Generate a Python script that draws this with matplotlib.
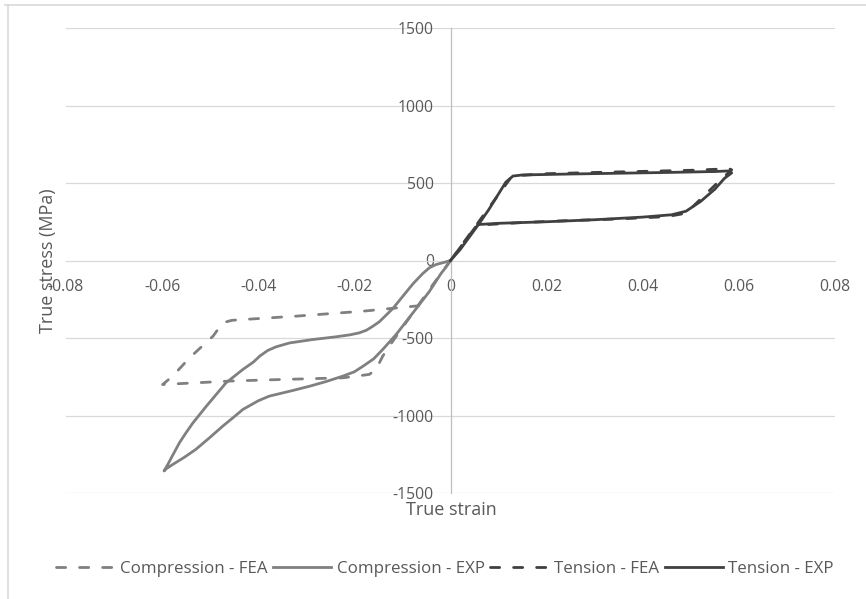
import matplotlib
matplotlib.use("Agg")
import matplotlib.pyplot as plt
from matplotlib.lines import Line2D

# ---- data ----
comp_fea_strain = [0, -0.004, -0.008, -0.012, -0.0141, -0.0155, -0.0169, -0.0224, -0.0356,
                   -0.046, -0.0599, -0.0578, -0.0543, -0.0494, -0.0474, -0.0455, -0.0432,
                   -0.0321, -0.0182, -0.0066]
comp_fea_stress = [0, -170, -345, -520, -617, -703, -735, -757, -768,
                   -778, -800, -746, -628, -488, -402, -386, -381,
                   -359, -327, -292]

comp_exp_strain = [0, -0.001, -0.002, -0.0044, -0.0078, -0.0113, -0.0141, -0.016, -0.0182,
                   -0.020, -0.0224, -0.026, -0.0293, -0.033, -0.0377, -0.040, -0.0432,
                   -0.045, -0.0474, -0.050, -0.053, -0.0555, -0.0578, -0.0592, -0.0596,
                   -0.0588, -0.0576, -0.0564, -0.055, -0.0536, -0.0508, -0.0467, -0.0432,
                   -0.041, -0.0397, -0.038, -0.0363, -0.0335, -0.0287, -0.024, -0.021,
                   -0.019, -0.0175, -0.0162, -0.0148, -0.012, -0.0078, -0.0058, -0.0044,
                   -0.003, -0.0012, 0]
comp_exp_stress = [0, -45, -85, -200, -337, -477, -574, -635, -682,
                   -718, -746, -782, -811, -840, -875, -905, -961,
                   -1008, -1069, -1140, -1219, -1272, -1316, -1345, -1358,
                   -1315, -1245, -1176, -1110, -1048, -940, -789, -703,
                   -655, -617, -580, -557, -532, -510, -493, -480,
                   -467, -450, -425, -395, -310, -150, -85, -47,
                   -26, -11, 0]

tens_fea_strain = [0, 0.0128, 0.02, 0.03, 0.04, 0.05, 0.058, 0.0585, 0.0555, 0.049,
                   0.045, 0.035, 0.025, 0.015, 0.0055, 0.003, 0]
tens_fea_stress = [0, 545, 560, 568, 575, 582, 592, 585, 500, 305,
                   283, 268, 258, 245, 228, 125, 0]

tens_exp_strain = [0, 0.002, 0.004, 0.006, 0.008, 0.010, 0.0115, 0.013, 0.015, 0.025,
                   0.035, 0.045, 0.055, 0.058, 0.0585, 0.057, 0.055, 0.052, 0.049,
                   0.046, 0.040, 0.030, 0.020, 0.010, 0.0057]
tens_exp_stress = [0, 70, 155, 240, 330, 430, 505, 545, 552, 558,
                   563, 568, 574, 578, 565, 530, 460, 380, 318,
                   295, 280, 263, 250, 240, 232]

labels = ["Compression - FEA", "Compression - EXP", "Tension - FEA", "Tension - EXP"]
grey = "#808080"
dark = "#404040"
txt = "#595959"

plt.rcParams['font.family'] = ['Open Sans', 'DejaVu Sans']

fig = plt.figure(figsize=(8.66, 5.99), dpi=100)
ax = fig.add_axes([66 / 866, 1 - 493 / 599, (835 - 66) / 866, (493 - 28) / 599])

dash = (3.3, 5.0)
l1, = ax.plot(comp_fea_strain, comp_fea_stress, color=grey, lw=2, dashes=dash,
              dash_capstyle='round', label=labels[0], zorder=3)
l2, = ax.plot(comp_exp_strain, comp_exp_stress, color=grey, lw=2, label=labels[1],
              solid_joinstyle='round', zorder=3)
l3, = ax.plot(tens_fea_strain, tens_fea_stress, color=dark, lw=2, dashes=dash,
              dash_capstyle='round', label=labels[2], zorder=3)
l4, = ax.plot(tens_exp_strain, tens_exp_stress, color=dark, lw=2, label=labels[3],
              solid_joinstyle='round', zorder=4)

ax.set_xlim(-0.08, 0.08)
ax.set_ylim(-1500, 1500)
ax.set_xticks([-0.08, -0.06, -0.04, -0.02, 0, 0.02, 0.04, 0.06, 0.08])
ax.set_xticklabels(["-0.08", "-0.06", "-0.04", "-0.02", "0", "0.02", "0.04", "0.06", "0.08"])
ax.set_yticks([-1500, -1000, -500, 0, 500, 1000, 1500])
ax.set_yticklabels(["-1500", "-1000", "-500", "0", "500", "1000", "1500"])

for y in [-1500, -1000, -500, 500, 1000, 1500]:
    ax.axhline(y, color="#d9d9d9", lw=0.9, zorder=1)

ax.spines['left'].set_position(('data', 0))
ax.spines['bottom'].set_position(('data', 0))
ax.spines['left'].set_color("#bfbfbf")
ax.spines['bottom'].set_color("#d9d9d9")
ax.spines['left'].set_linewidth(0.9)
ax.spines['bottom'].set_linewidth(0.9)
ax.spines['top'].set_visible(False)
ax.spines['right'].set_visible(False)
ax.tick_params(axis='x', length=0, pad=13, labelsize=11.3, labelcolor=txt)
ax.tick_params(axis='y', length=0, pad=12, labelsize=11.3, labelcolor=txt)

fig.text(48 / 866, 1 - 261 / 599, "True stress (MPa)", rotation=90, ha='center', va='center',
         fontsize=13, color=txt)
fig.text(451 / 866, 1 - 510 / 599, "True strain", ha='center', va='center',
         fontsize=13, color=txt)

fig.legend(handles=[l1, l2, l3, l4], loc='center', bbox_to_anchor=(445 / 866, 1 - 569 / 599),
           ncol=4, frameon=False, fontsize=12.2, handlelength=3.4, handletextpad=0.35,
           columnspacing=0.35, labelcolor=txt)

# chart-area border (top and left edges visible)
fig.add_artist(Line2D([5 / 866, 1], [1 - 5 / 599, 1 - 5 / 599], color="#d9d9d9", lw=1.2,
                      transform=fig.transFigure))
fig.add_artist(Line2D([8 / 866, 8 / 866], [0, 1 - 5 / 599], color="#d9d9d9", lw=1.2,
                      transform=fig.transFigure))

plt.savefig("out.png", dpi=100)
